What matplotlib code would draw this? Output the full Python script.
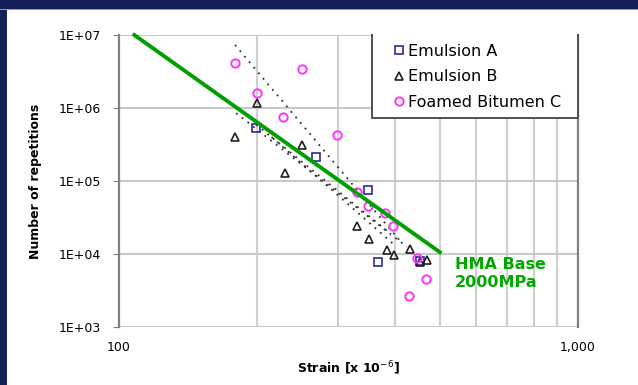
import numpy as np
import matplotlib
matplotlib.use("Agg")
import matplotlib.pyplot as plt
from matplotlib.ticker import FixedLocator, NullFormatter
from matplotlib.patches import Rectangle

# data (strain in microstrain, repetitions)
emul_a_x = [199, 268, 348, 367, 453]
emul_a_y = [5.3e5, 2.15e5, 7.5e4, 7.8e3, 8.1e3]

emul_b_x = [200, 179, 251, 230, 330, 351, 383, 397, 430, 453, 469]
emul_b_y = [1.17e6, 4.0e5, 3.1e5, 1.27e5, 2.4e4, 1.6e4, 1.14e4, 9.7e3, 1.16e4, 7.8e3, 8.3e3]

foam_c_x = [179, 250, 200, 228, 299, 330, 348, 379, 395, 446, 467, 429]
foam_c_y = [4.2e6, 3.4e6, 1.62e6, 7.5e5, 4.3e5, 7.1e4, 4.6e4, 3.7e4, 2.4e4, 8.8e3, 4.5e3, 2.7e3]

# dotted trend lines (start/end strain, start/end repetitions)
trend_x = [[179, 410], [180, 424], [199, 383], [215, 400]]
trend_y = [[7.3e6, 1.5e4], [8.5e5, 1.25e4], [5.9e5, 2.1e4], [4.0e5, 1.3e4]]

# HMA base line
hma_x = [108, 500]
hma_y = [1.0e7, 1.06e4]

fig = plt.figure(figsize=(6.38, 3.85), dpi=100)
fig.patch.set_facecolor("white")
# dark frame strips top and left
fig.patches.append(Rectangle((0, 1 - 9 / 385), 1, 9 / 385, transform=fig.transFigure,
                             facecolor="#13205a", edgecolor="none", zorder=-1))
fig.patches.append(Rectangle((0, 0), 7 / 638, 1, transform=fig.transFigure,
                             facecolor="#13205a", edgecolor="none", zorder=-1))
fig.patches.append(Rectangle((0, 1 - 10 / 385), 1, 1 / 385, transform=fig.transFigure,
                             facecolor="#9a9a9a", edgecolor="none", zorder=-1))

ax = fig.add_axes([119 / 638, 1 - 327 / 385, (578 - 119) / 638, (327 - 35) / 385])
ax.set_xscale("log")
ax.set_yscale("log")
ax.set_xlim(100, 1000)
ax.set_ylim(1e3, 1e7)

for s in ["top", "bottom"]:
    ax.spines[s].set_visible(False)
for s in ["left", "right"]:
    ax.spines[s].set_color("#808080")
    ax.spines[s].set_linewidth(1.6)

ax.xaxis.set_major_locator(FixedLocator([100, 1000]))
ax.xaxis.set_minor_locator(FixedLocator([200, 300, 400, 500, 600, 700, 800, 900]))
ax.xaxis.set_minor_formatter(NullFormatter())
ax.set_xticklabels(["100", "1,000"])
ax.yaxis.set_major_locator(FixedLocator([1e3, 1e4, 1e5, 1e6, 1e7]))
ax.yaxis.set_minor_locator(FixedLocator([]))
ax.set_yticklabels(["1E+03", "1E+04", "1E+05", "1E+06", "1E+07"])
ax.tick_params(axis="x", which="both", length=0, pad=10, labelsize=9)
ax.tick_params(axis="y", length=4, color="#808080", pad=9, labelsize=9)

ax.grid(True, which="minor", axis="x", color="#d0d0d0", lw=1.5)
ax.grid(True, which="major", axis="y", color="#c8c8c8", lw=1.5)

for tx, ty in zip(trend_x, trend_y):
    ax.plot(tx, ty, color="#303030", ls=(0, (1, 3)), lw=1.3, zorder=2)

ax.plot(emul_a_x, emul_a_y, ls="none", marker="s", ms=5.5, mfc="none",
        mec="#2a2a9a", mew=1.2, label="Emulsion A", zorder=3)
ax.plot(emul_b_x, emul_b_y, ls="none", marker="^", ms=5.5, mfc="none",
        mec="#202020", mew=1.2, label="Emulsion B", zorder=3)
ax.plot(foam_c_x, foam_c_y, ls="none", marker="o", ms=6, mfc="none",
        mec="#ff33ff", mew=1.4, label="Foamed Bitumen C", zorder=3)

ax.plot(hma_x, hma_y, color="#00a000", lw=2.8, zorder=4, clip_on=False)
ax.text(540, 9.0e3, "HMA Base\n2000MPa", color="#00a800", fontsize=11.5,
        fontweight="bold", va="top", ha="left", linespacing=1.25)

# legend box: white panel open at the top, like the original
lx0 = (372 - 119) / 459
ly0 = (327 - 118) / 292
ax.add_patch(Rectangle((lx0, ly0), 1 - lx0, 1 - ly0, transform=ax.transAxes,
                       facecolor="white", edgecolor="none", zorder=5))
ax.plot([lx0, lx0, 1.0, 1.0], [1.0, ly0, ly0, 1.0], transform=ax.transAxes,
        color="#505050", lw=1.4, zorder=6, clip_on=False)
leg = ax.legend(loc="upper left", bbox_to_anchor=((393 - 119) / 459, 1 - 9 / 292),
                fontsize=11.5, frameon=False, borderaxespad=0, borderpad=0,
                handletextpad=0.15, handlelength=0.8, labelspacing=0.65)
leg.set_zorder(7)

ax.set_xlabel("Strain [x 10$^{-6}$]", fontsize=9, fontweight="bold", labelpad=4)
ax.set_ylabel("Number of repetitions", fontsize=9, fontweight="bold", labelpad=12)

fig.savefig("out.png", dpi=100)
